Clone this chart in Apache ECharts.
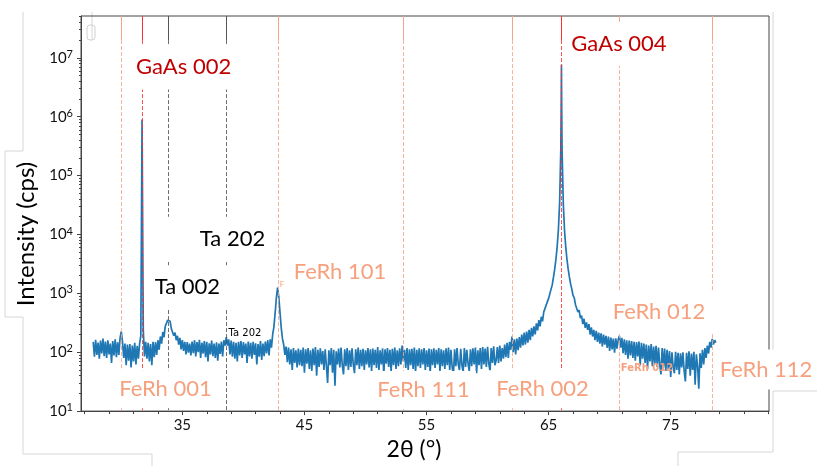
<!DOCTYPE html>
<html>
<head>
<meta charset="utf-8">
<script src="https://cdn.jsdelivr.net/npm/echarts@6/dist/echarts.min.js"></script>
<style>
  html, body { margin: 0; padding: 0; background: #fff; }
  #xrd { width: 817px; height: 466px; }
</style>
</head>
<body>
<div id="xrd"></div>
<script>
// 2theta scan, 0.1 deg steps from 27.7 deg
var scanStart = 27.7;
var scanStep = 0.1;
var scanCounts = [
    150, 84, 162, 90, 146, 78, 158, 95, 170, 86,
    152, 80, 160, 92, 140, 66, 155, 88, 165, 82,
    148, 90, 175, 225, 150, 80, 140, 60, 135, 72,
    138, 55, 130, 70, 145, 62, 128, 78, 140, 190,
    900000, 240, 85, 150, 78, 145, 70, 138, 60, 150,
    82, 148, 90, 160, 110, 185, 140, 220, 180, 275,
    290, 350, 330, 335, 250, 265, 190, 215, 160, 190,
    135, 175, 112, 160, 105, 150, 92, 148, 98, 140,
    88, 152, 96, 160, 85, 148, 100, 162, 80, 145,
    95, 155, 82, 150, 70, 142, 92, 158, 86, 140,
    80, 148, 72, 140, 94, 152, 85, 160, 130, 180,
    130, 165, 92, 158, 84, 150, 78, 145, 70, 150,
    88, 155, 80, 148, 92, 140, 66, 152, 85, 145,
    78, 150, 90, 142, 62, 138, 84, 155, 74, 140,
    86, 152, 95, 160, 88, 165, 120, 200, 270, 460,
    830, 1250, 870, 470, 260, 170, 135, 90, 125, 68,
    120, 62, 112, 50, 118, 66, 108, 55, 115, 60,
    110, 58, 120, 45, 112, 64, 118, 52, 108, 48,
    115, 60, 122, 40, 110, 56, 117, 62, 105, 50,
    112, 58, 30, 108, 60, 118, 45, 110, 27, 104,
    62, 115, 55, 120, 60, 42, 112, 58, 118, 50,
    108, 56, 116, 62, 44, 112, 60, 120, 52, 110,
    58, 114, 50, 108, 62, 118, 55, 112, 48, 115,
    60, 110, 54, 122, 50, 108, 62, 116, 42, 112,
    64, 118, 56, 110, 46, 114, 60, 120, 52, 108,
    58, 116, 62, 130, 70, 110, 54, 118, 50, 112,
    60, 114, 52, 120, 45, 110, 58, 116, 54, 112,
    62, 118, 50, 108, 56, 115, 44, 112, 60, 117,
    54, 110, 62, 118, 48, 112, 58, 108, 52, 116,
    60, 120, 50, 110, 56, 40, 112, 58, 118, 62,
    50, 114, 60, 46, 118, 56, 110, 64, 48, 112,
    58, 116, 62, 120, 44, 108, 60, 118, 52, 122,
    62, 115, 56, 124, 64, 48, 118, 66, 126, 60,
    72, 122, 66, 130, 70, 118, 78, 135, 82, 145,
    80, 150, 110, 185, 100, 165, 92, 170, 108, 180,
    120, 200, 130, 215, 135, 225, 145, 240, 160, 260,
    185, 275, 200, 310, 235, 350, 275, 400, 335, 480,
    450, 630, 600, 820, 880, 1180, 1400, 1900, 2600, 3800,
    6200, 12000, 34000, 290000, 290000, 34000, 12000, 6200, 3800, 2600,
    1900, 1450, 1180, 920, 840, 640, 650, 480, 520, 380,
    420, 300, 370, 260, 320, 240, 300, 200, 265, 185,
    240, 160, 230, 150, 215, 140, 210, 125, 200, 135,
    190, 118, 185, 105, 178, 112, 170, 98, 172, 115,
    165, 190, 120, 175, 96, 165, 90, 160, 78, 158,
    88, 155, 80, 150, 72, 148, 85, 152, 60, 145,
    78, 140, 66, 135, 52, 130, 70, 138, 58, 125,
    64, 128, 56, 120, 62, 42, 118, 55, 115, 48,
    110, 52, 105, 38, 100, 56, 44, 102, 50, 98,
    42, 96, 55, 100, 48, 32, 98, 52, 104, 40,
    95, 50, 102, 28, 92, 58, 24, 96, 54, 110,
    62, 118, 80, 130, 95, 150, 120, 168, 135, 160,
    145
];
// extra points on top of GaAs 004
var peakAngles = [66.03, 66.05, 66.07];
var peakCounts = [1500000, 7600000, 1600000];

// reference lines
var refNames = ['FeRh 001', 'GaAs 002', 'Ta 002', 'Ta 202', 'FeRh 101', 'FeRh 111', 'FeRh 002', 'GaAs 004', 'FeRh 012', 'FeRh 112'];
var refAngles = [30.0, 31.7, 33.85, 38.6, 42.85, 53.1, 62.05, 66.05, 70.8, 78.4];
var refKinds = ['ferh', 'gaas', 'ta', 'ta', 'ferh', 'ferh', 'ferh', 'gaas', 'ferh', 'ferh'];

// annotations (text, anchor angle, anchor counts)
var noteTexts = ['Ta 202', 'FeRh 012', 'F', 'GaAs 002', 'GaAs 004', 'Ta 202', 'Ta 002', 'FeRh 101', 'FeRh 001', 'FeRh 111', 'FeRh 002', 'FeRh 012', 'FeRh 112'];
var noteAngles = [40.13, 73.06, 43.16, 35.1, 70.76, 39.11, 35.42, 47.91, 33.62, 54.75, 64.5, 74.04, 82.81];
var noteCounts = [209, 54, 1422, 6.59e6, 1.67e7, 8430, 1315, 2400, 20.1, 19.6, 20.1, 481, 50.8];
var noteKinds = ['small-ta', 'small-ferh', 'tiny-ferh', 'gaas', 'gaas', 'ta', 'ta', 'ferh', 'ferh', 'ferh', 'ferh', 'ferh', 'ferh'];

var yMajorTicks = [10, 100, 1000, 10000, 100000, 1000000, 10000000];
var xMajorTicks = [35, 45, 55, 65, 75];
var xMinorTicks = [27, 29, 31, 33, 37, 39, 41, 43, 47, 49, 51, 53, 57, 59, 61, 63, 67, 69, 71, 73, 77, 79, 81, 83];

var X_MIN = 26.7, X_MAX = 83.05, Y_MIN = 10, Y_MAX = 5.13e7, Y_SOLID = 2.0e7;
var FONT = 'Lato';
var colors = { ferh: '#f6a07e', gaas: '#c00000', ta: '#000000' };
var lineColors = { ferh: '#f7a487', gaas: '#ff3030', ta: '#555555' };

function yMinorTicks() {
    var list = [];
    for (var e = 1; e < 8; e++) {
        for (var m = 2; m <= 9; m++) {
            var v = m * Math.pow(10, e);
            if (v < Y_MAX) list.push(v);
        }
    }
    return list;
}

function buildScan() {
    var pts = [];
    for (var i = 0; i < scanCounts.length; i++) {
        pts.push([+(scanStart + i * scanStep).toFixed(2), scanCounts[i]]);
    }
    for (var j = 0; j < peakAngles.length; j++) {
        pts.push([peakAngles[j], peakCounts[j]]);
    }
    pts.sort(function (a, b) { return a[0] - b[0]; });
    return pts;
}

function buildRefLines() {
    var out = [];
    for (var i = 0; i < refAngles.length; i++) {
        var c = lineColors[refKinds[i]];
        out.push([
            { coord: [refAngles[i], Y_MAX], lineStyle: { color: c, width: 1, type: 'solid' } },
            { coord: [refAngles[i], Y_SOLID] }
        ]);
        out.push([
            { coord: [refAngles[i], Y_SOLID], lineStyle: { color: c, width: 1, type: [4, 2], opacity: 0.85 } },
            { coord: [refAngles[i], Y_MIN] }
        ]);
    }
    return out;
}

// white boxes behind the pasted labels [top, right, bottom, left]
var notePadding = {
    'GaAs 002': [11, 3, 8, 7],
    'GaAs 004': [10, 32, 8, 4],
    'Ta 202': [9, 6, 9, 42],
    'Ta 002': [8, 7, 9, 6],
    'FeRh 101': [8, 6, 10, 8],
    'FeRh 001': [10, 8, 2, 8],
    'FeRh 111': [10, 6, 2, 6],
    'FeRh 002': [10, 8, 2, 8],
    'FeRh 012': [7, 8, 7, 6],
    'FeRh 112': [7, 6, 7, 6]
};

function buildNotes() {
    var out = [];
    for (var i = 0; i < noteTexts.length; i++) {
        var kind = noteKinds[i];
        var lab = { show: true, position: 'inside', formatter: noteTexts[i], fontFamily: FONT };
        if (kind === 'small-ta') {
            lab.fontSize = 10; lab.color = '#000'; lab.fontFamily = 'DejaVu Sans';
        } else if (kind === 'small-ferh') {
            lab.fontSize = 10; lab.color = colors.ferh; lab.fontWeight = 'bold'; lab.fontFamily = 'DejaVu Sans';
        } else if (kind === 'tiny-ferh') {
            lab.fontSize = 8; lab.color = colors.ferh;
        } else {
            var p = notePadding[noteTexts[i]];
            lab.fontSize = 22;
            lab.lineHeight = 26;
            lab.color = colors[kind];
            lab.backgroundColor = '#ffffff';
            lab.padding = p;
            // keep the text on the anchor, let the box grow around it
            lab.offset = [(p[1] - p[3]) / 2, (p[2] - p[0]) / 2];
        }
        out.push({ value: [noteAngles[i], noteCounts[i]], label: lab });
    }
    return out;
}

var chart = echarts.init(document.getElementById('xrd'));
var sup = { b: { fontSize: 15, fontFamily: FONT, color: '#111' }, s: { fontSize: 11, fontFamily: FONT, color: '#111', verticalAlign: 'top', padding: [0, 0, 7, 0] } };

var option = {
    animation: false,
    backgroundColor: '#ffffff',
    grid: { left: 81, right: 48, top: 16, bottom: 51, show: true, borderColor: '#444', borderWidth: 1, backgroundColor: 'transparent' },
    xAxis: [{
        type: 'value', min: X_MIN, max: X_MAX,
        name: '2θ (°)', nameLocation: 'middle', nameGap: 26,
        nameTextStyle: { fontFamily: FONT, fontSize: 23, color: '#000', padding: [0, 22, 0, 0] },
        axisLine: { lineStyle: { color: '#444' } },
        axisTick: { show: true, length: 4, customValues: xMajorTicks, lineStyle: { color: '#444' } },
        axisLabel: { customValues: xMajorTicks, margin: 7, fontFamily: FONT, fontSize: 15, color: '#111' },
        splitLine: { show: false }
    }, {
        type: 'value', min: X_MIN, max: X_MAX, position: 'bottom',
        axisLine: { show: false },
        axisTick: { show: true, length: 3, customValues: xMinorTicks, lineStyle: { color: '#444' } },
        axisLabel: { show: false },
        splitLine: { show: false }
    }],
    yAxis: [{
        type: 'log', min: Y_MIN, max: Y_MAX, logBase: 10,
        name: 'Intensity (cps)', nameLocation: 'middle', nameGap: 42, nameRotate: 90,
        nameTextStyle: { fontFamily: FONT, fontSize: 24, color: '#000', padding: [0, 41, 0, 0] },
        axisLine: { show: true, lineStyle: { color: '#444' } },
        axisTick: { show: true, length: 4, customValues: yMajorTicks, lineStyle: { color: '#444' } },
        axisLabel: {
            customValues: yMajorTicks, margin: 8,
            formatter: function (v) {
                return '{b|10}{s|' + Math.round(Math.log10(v)) + '}';
            },
            rich: sup
        },
        splitLine: { show: false }
    }, {
        type: 'log', min: Y_MIN, max: Y_MAX, logBase: 10, position: 'left',
        axisLine: { show: false },
        axisTick: { show: true, length: 2, customValues: yMinorTicks(), lineStyle: { color: '#444' } },
        axisLabel: { show: false },
        splitLine: { show: false }
    }],
    series: [{
        name: 'scan', type: 'line', xAxisIndex: 0, yAxisIndex: 0,
        data: buildScan(), showSymbol: false, symbol: 'none',
        lineStyle: { color: '#1f77b4', width: 1.7 },
        z: 2
    }, {
        name: 'refs', type: 'line', data: [], z: 3,
        markLine: { silent: true, symbol: ['none', 'none'], label: { show: false }, data: buildRefLines(), animation: false }
    }, {
        name: 'notes', type: 'scatter', symbolSize: 0, clip: false, silent: true,
        itemStyle: { opacity: 1 },
        data: buildNotes(), z: 10
    }],
    graphic: [
        { type: 'polyline', silent: true, z: -1, shape: { points: [[23, 12], [23, 151], [5, 151], [5, 317], [23, 317], [23, 454], [152, 454], [152, 466]] }, style: { stroke: '#d6d6d6', fill: null, lineWidth: 1 } },
        { type: 'polyline', silent: true, z: -1, shape: { points: [[773, 12], [773, 353], [817, 353]] }, style: { stroke: '#d6d6d6', fill: null, lineWidth: 1 } },
        { type: 'polyline', silent: true, z: -1, shape: { points: [[817, 391], [773, 391], [773, 452], [678, 452], [678, 466]] }, style: { stroke: '#d6d6d6', fill: null, lineWidth: 1 } },
        { type: 'line', silent: true, z: -1, shape: { x1: 92, y1: 12, x2: 92, y2: 40 }, style: { stroke: '#d6d6d6', lineWidth: 1 } },
        { type: 'rect', silent: true, z: 5, shape: { x: 87, y: 25, width: 8, height: 15, r: 3 }, style: { stroke: '#d0d0d0', fill: null, lineWidth: 1 } }
    ]
};
chart.setOption(option);
</script>
</body>
</html>
